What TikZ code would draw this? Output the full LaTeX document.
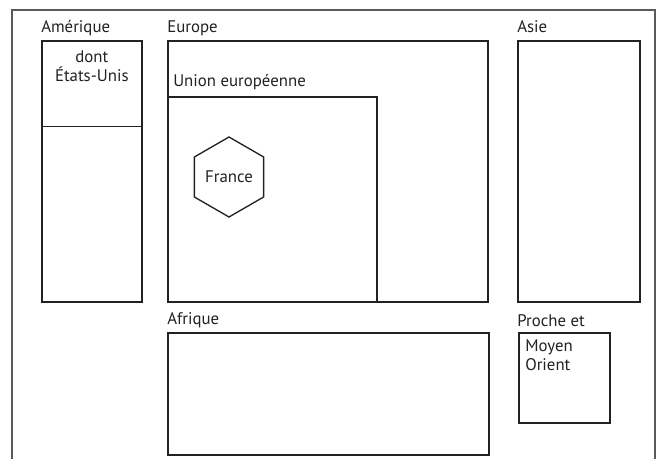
\documentclass[tikz,border=0pt]{standalone}
\usepackage{fontspec}
\setmainfont{PT Sans}
\usetikzlibrary{positioning, shapes.geometric}
\definecolor{ink}{HTML}{222222}
\definecolor{framegray}{HTML}{5A5A5A}

\begin{document}
\begin{tikzpicture}[
        x=0.75pt, y=-0.75pt,
        every node/.style={font=\fontsize{12.6}{14.25}\selectfont, text=ink},
        region/.style={draw=ink, line width=1.2pt, anchor=north west, inner sep=0pt},
        lbl/.style={anchor=base west, inner sep=0pt},
        inside/.style={inner sep=0pt, align=left, anchor=north west},
        pays/.style={draw=ink, line width=1pt, regular polygon, regular polygon sides=6,
            shape border rotate=30, minimum size=60pt, inner sep=0pt}
    ]
        \useasboundingbox (0,0) rectangle (656,459);
        \draw[framegray, line width=0.8pt] (12,459) -- (12,10) -- (655,10) -- (655,459);

        % continents
        \node[region, minimum width=75pt, minimum height=195.75pt] (am) at (41,40) {};
        \node[region, minimum width=75pt, minimum height=64.2pt] (us) at (41,40) {};
        \node[region, minimum width=240pt, minimum height=195.75pt] (eu) at (167,40) {};
        \node[region, minimum width=156.75pt, minimum height=153.75pt] (ue) at (167,96) {};
        \node[region, minimum width=91.5pt, minimum height=195.75pt] (as) at (517,40) {};
        \node[region, minimum width=240.75pt, minimum height=91.5pt] (af) at (167,332) {};
        \node[region, minimum width=68.25pt, minimum height=67.5pt] (mo) at (518,332) {};

        % titles
        \node[lbl] (amlbl) at ([yshift=5.25pt]am.north west) {Amérique};
        \node[lbl] (eulbl) at ([yshift=5.25pt]eu.north west) {Europe};
        \node[lbl] (aslbl) at ([yshift=5.25pt]as.north west) {Asie};
        \node[lbl] (uelbl) at ([xshift=4.5pt, yshift=7pt]ue.north west) {Union européenne};
        \node[lbl] (aflbl) at ([yshift=5.25pt]af.north west) {Afrique};
        \node[lbl] (molbl) at ([xshift=-0.75pt, yshift=4.5pt]mo.north west) {Proche et};

        \node[inside, align=center, anchor=north] (uslbl) at ([yshift=-7.5pt]us.north) {dont\\États-Unis};
        \node[inside] (motxt) at ([xshift=5.25pt, yshift=-5.25pt]mo.north west) {Moyen\\Orient};

        \node[pays] (fr) at (229,177) {France};
    \end{tikzpicture}
\end{document}
